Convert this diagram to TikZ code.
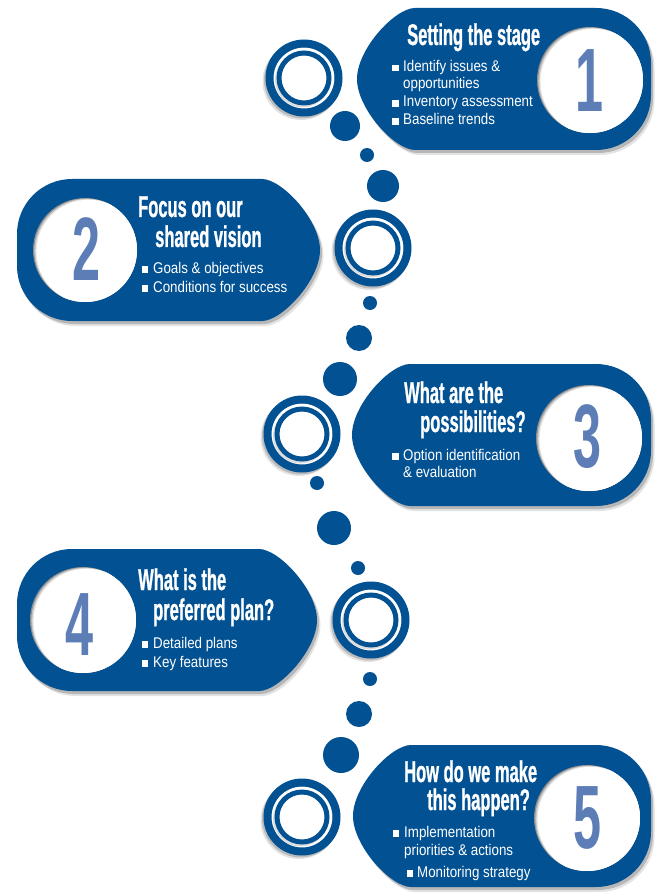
\documentclass[tikz,border=0pt]{standalone}
\usepackage{fontspec}
\setmainfont{Liberation Sans}
\newfontfamily\titlefont[FakeStretch=0.55,FakeBold=0.8]{Liberation Sans}
\newfontfamily\numfont[FakeStretch=0.56]{Liberation Sans}
\newfontfamily\bodyfont[FakeStretch=0.86]{Liberation Sans}
\definecolor{mainblue}{RGB}{2,81,147}
\definecolor{numblue}{RGB}{92,125,182}
\definecolor{shadowc}{RGB}{30,30,30}
% right-rounded tag, tip on the left: #1 tip x, #2 centre y
\newcommand\tagR[2]{({#1+58},{#2-71}) -- (596,{#2-71}) .. controls (626.4,{#2-71}) and (651,{#2-46.4}) .. (651,{#2-16}) -- (651,{#2+16}) .. controls (651,{#2+46.4}) and (626.4,{#2+71}) .. (596,{#2+71}) -- ({#1+58},{#2+71}) .. controls ({#1+38},{#2+71}) and ({#1},{#2+30}) .. ({#1},{#2}) .. controls ({#1},{#2-30}) and ({#1+38},{#2-71}) .. cycle}
% left-rounded tag, tip on the right
\newcommand\tagL[2]{({#1-58},{#2-71}) .. controls ({#1-38},{#2-71}) and ({#1},{#2-30}) .. ({#1},{#2}) .. controls ({#1},{#2+30}) and ({#1-38},{#2+71}) .. ({#1-58},{#2+71}) -- (72,{#2+71}) .. controls (41.6,{#2+71}) and (17,{#2+46.4}) .. (17,{#2+16}) -- (17,{#2-16}) .. controls (17,{#2-46.4}) and (41.6,{#2-71}) .. (72,{#2-71}) -- cycle}
\newcommand\outerband[2]{(#1,#2) circle (38.5) (#1,#2) circle (30.5)}
\newcommand\innerband[2]{(#1,#2) circle (27.5) (#1,#2) circle (22.5)}
\newcommand\tagshadow[1]{%
  \fill[shadowc,opacity=.12,shift={(3.5,5)}] #1;
  \fill[shadowc,opacity=.22,shift={(2,3)}] #1;}
\newcommand\ring[2]{%
  \fill[shadowc,opacity=.12,even odd rule,shift={(-3,3.5)}] \outerband{#1}{#2};
  \fill[shadowc,opacity=.2,even odd rule,shift={(-1.5,2)}] \outerband{#1}{#2};
  \fill[white] (#1,#2) circle (30.5);
  \fill[shadowc,opacity=.15,even odd rule,shift={(-1.5,2)}] \innerband{#1}{#2};
  \fill[white] (#1,#2) circle (22.5);
  \fill[mainblue,even odd rule] \outerband{#1}{#2} \innerband{#1}{#2};}
\newcommand\hole[3]{%
  \begin{scope}
    \clip (#1,#2) circle (#3);
    \fill[black!45] (#1,#2) circle (#3);
    \fill[black!25] ({#1+1.2},{#2+0.6}) circle (#3);
    \fill[black!10] ({#1+2.4},{#2+1.2}) circle (#3);
    \fill[white] ({#1+3.6},{#2+1.8}) circle (#3);
  \end{scope}}
\tikzset{
  ttl/.style={anchor=base west, inner sep=0, text=white, font=\titlefont\bfseries\fontsize{30}{30}\selectfont},
  txt/.style={anchor=base west, inner sep=0, text=white, font=\bodyfont\fontsize{15.5}{15.5}\selectfont},
  bul/.style={rectangle, fill=white, inner sep=0, minimum size=6.5pt},
  num/.style={anchor=base, inner sep=0, text=numblue, font=\numfont\bfseries\fontsize{90}{90}\selectfont},
  dot/.style={fill=mainblue}
}
\begin{document}
\begin{tikzpicture}[x=1pt,y=-1pt]
\useasboundingbox (0,0) rectangle (654,893);
\fill[white] (0,0) rectangle (654,893);

% ---- tags ----
\tagshadow{\tagR{357}{79}}
\fill[mainblue] \tagR{357}{79};
\tagshadow{\tagL{320}{250}}
\fill[mainblue] \tagL{320}{250};
\tagshadow{\tagR{352}{435}}
\fill[mainblue] \tagR{352}{435};
\tagshadow{\tagL{317}{620}}
\fill[mainblue] \tagL{317}{620};
\tagshadow{\tagR{353}{816}}
\fill[mainblue] \tagR{353}{816};

% ---- white number discs ----
\hole{590}{80}{53}
\hole{85}{250}{52}
\hole{589}{438}{53}
\hole{83}{620}{53}
\hole{587}{818}{53}

% ---- rings ----
\ring{304}{78}
\ring{373}{248}
\ring{302}{434}
\ring{371}{620}
\ring{302}{817}

% ---- dots ----
\fill[dot] (345,126) circle (15);
\fill[dot] (367,155) circle (7);
\fill[dot] (383,186) circle (16);
\fill[dot] (370,303) circle (7);
\fill[dot] (359,338) circle (13);
\fill[dot] (340,379) circle (17);
\fill[dot] (317,483) circle (7);
\fill[dot] (334,528) circle (17);
\fill[dot] (358,568) circle (7);
\fill[dot] (370,679) circle (7);
\fill[dot] (359,714) circle (13);
\fill[dot] (341,755) circle (18);

% ---- step 1 ----
\node[num] (n1) at (590,112) {1};
\node[ttl] (t1) at (407,45) {Setting the stage};
\node[bul] (b1a) at (395.5,68) {};
\node[txt] (s1a) at (403,72) {Identify issues \&};
\node[txt] (s1b) at (403,89) {opportunities};
\node[bul] (b1c) at (395.5,103.5) {};
\node[txt] (s1c) at (403,107) {Inventory assessment};
\node[bul] (b1d) at (395.5,121.5) {};
\node[txt] (s1d) at (403,125) {Baseline trends};

% ---- step 2 ----
\node[num] (n2) at (87,280) {2};
\node[ttl] (t2a) at (138,217) {Focus on our};
\node[ttl] (t2b) at (155,247) {shared vision};
\node[bul] (b2a) at (145,269.5) {};
\node[txt] (s2a) at (153,273) {Goals \& objectives};
\node[bul] (b2b) at (145,288.5) {};
\node[txt] (s2b) at (153,292) {Conditions for success};

% ---- step 3 ----
\node[num] (n3) at (588,467) {3};
\node[ttl] (t3a) at (404,403) {What are the};
\node[ttl] (t3b) at (420,432) {possibilities?};
\node[bul] (b3a) at (395.5,456.5) {};
\node[txt] (s3a) at (403,460) {Option identification};
\node[txt] (s3b) at (403,477) {\& evaluation};

% ---- step 4 ----
\node[num] (n4) at (80,655) {4};
\node[ttl] (t4a) at (138,590) {What is the};
\node[ttl] (t4b) at (153,620) {preferred plan?};
\node[bul] (b4a) at (145,644.5) {};
\node[txt] (s4a) at (153,648) {Detailed plans};
\node[bul] (b4b) at (145,663.5) {};
\node[txt] (s4b) at (153,667) {Key features};

% ---- step 5 ----
\node[num] (n5) at (588,848) {5};
\node[ttl] (t5a) at (404,782) {How do we make};
\node[ttl] (t5b) at (427,810) {this happen?};
\node[bul] (b5a) at (396,833.5) {};
\node[txt] (s5a) at (404,837) {Implementation};
\node[txt] (s5b) at (404,855) {priorities \& actions};
\node[bul] (b5c) at (410,873.5) {};
\node[txt] (s5c) at (417,877) {Monitoring strategy};
\end{tikzpicture}
\end{document}
